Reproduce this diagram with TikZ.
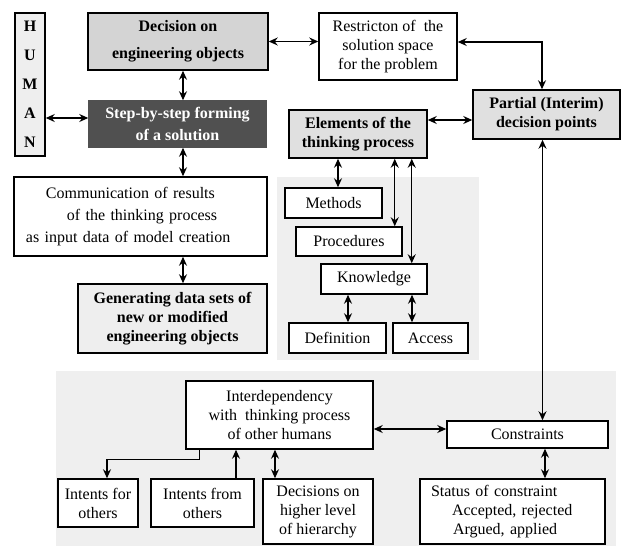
\documentclass[tikz,border=0pt]{standalone}
\usepackage{fontspec}
\setmainfont{Liberation Serif}
\usetikzlibrary{arrows.meta,calc}
\definecolor{decfill}{HTML}{D4D4D4}
\definecolor{partfill}{HTML}{E0E0E0}
\definecolor{lightfill}{HTML}{EEEEEE}
\definecolor{stepfill}{HTML}{505050}
\definecolor{regionfill}{HTML}{EFEFEF}
\tikzset{
  box/.style={draw=black, line width=1.5pt, inner sep=0pt, align=center,
    font=\fontsize{16}{19}\selectfont},
  boldbox/.style={box, font=\fontsize{16}{19}\selectfont\bfseries},
  tip/.tip={Stealth[length=9pt,width=8pt,inset=3pt]},
  dar/.style={line width=1.4pt, tip-tip},
  sar/.style={line width=1.4pt, -tip},
}
\begin{document}
\begin{tikzpicture}[x=1pt,y=-1pt]
\useasboundingbox[fill=white] (0,0) rectangle (622,546);
% background regions
\fill[regionfill] (277,177) rectangle (479,360);
\fill[regionfill] (56,371) rectangle (616,546);

% nodes
\node[boldbox, fill=lightfill, minimum width=30pt, minimum height=143pt,
  font=\fontsize{16}{29}\selectfont\bfseries] (human) at (30,84.5) {H\\U\\M\\A\\N};
\node[boldbox, fill=decfill, minimum width=180pt, minimum height=57pt,
  font=\fontsize{16}{27}\selectfont\bfseries] (dec) at (178,41.5) {Decision on\\engineering objects};
\node[boldbox, fill=stepfill, draw=stepfill, text=white, minimum width=177pt, minimum height=46pt,
  font=\fontsize{16}{22}\selectfont\bfseries] (step) at (177.5,124) {Step-by-step forming\\of a solution};
\node[box, minimum width=253pt, minimum height=79pt, text width=253pt, align=left,
  font=\fontsize{16}{22}\selectfont] (comm) at (140.5,216.5) {\hspace*{32pt}Communication of results\\\hspace*{53pt}of the thinking process\\\hspace*{12pt}as input data of model creation};
\node[boldbox, fill=lightfill, minimum width=189pt, minimum height=69pt] (gen) at (172.5,318.5) {Generating data sets of\\new or modified\\engineering objects};
\node[box, minimum width=138pt, minimum height=67pt] (restr) at (388,46.5) {Restricton of\ \ the\\solution space\\for the problem};
\node[boldbox, fill=partfill, minimum width=147pt, minimum height=49pt] (part) at (546.5,114.5) {Partial (Interim)\\decision points};
\node[boldbox, fill=partfill, minimum width=138pt, minimum height=48pt] (elem) at (358,134) {Elements of the\\thinking process};
\node[box, fill=white, minimum width=97pt, minimum height=30pt] (meth) at (333.5,203) {Methods};
\node[box, fill=white, minimum width=106pt, minimum height=29pt] (proc) at (349,241.5) {Procedures};
\node[box, fill=white, minimum width=106pt, minimum height=30pt] (know) at (374,279) {Knowledge};
\node[box, fill=white, minimum width=97pt, minimum height=30pt] (defn) at (337.5,338) {Definition};
\node[box, fill=white, minimum width=75pt, minimum height=30pt] (acc) at (430.5,338) {Access};
\node[box, fill=white, minimum width=187pt, minimum height=68pt] (inter) at (279.5,415) {Interdependency\\with\ \ thinking process\\of other humans};
\node[box, fill=white, minimum width=161pt, minimum height=27pt] (cons) at (527.5,434.5) {Constraints};
\node[box, fill=white, minimum width=185pt, minimum height=65pt, text width=185pt, align=left] (stat) at (512.5,511.5) {\hspace*{11pt}Status of constraint\\\hspace*{32pt}Accepted, rejected\\\hspace*{33pt}Argued, applied};
\node[box, fill=white, minimum width=80pt, minimum height=48pt] (ifor) at (98,503) {Intents for\\others};
\node[box, fill=white, minimum width=103pt, minimum height=48pt] (ifrom) at (202.5,503) {Intents from\\others};
\node[box, fill=white, minimum width=110pt, minimum height=65pt] (dech) at (318,511.5) {Decisions on\\higher level\\of hierarchy};

% connectors
\draw[dar] (human.east |- 0,118) -- (step.west |- 0,118);
\draw[dar] ([xshift=5pt]dec.south) -- ([xshift=5pt]dec.south |- step.north);
\draw[dar] ([xshift=5.5pt]step.south) -- ([xshift=5.5pt]step.south |- comm.north);
\draw[dar] ([xshift=10.5pt]gen.north) -- ([xshift=10.5pt]gen.north |- comm.south);
\draw[dar] (dec.east) -- (dec.east -| restr.west);
\draw[dar] ([yshift=4.5pt]restr.east) -| ([xshift=-4.5pt]part.north);
\draw[dar] ([yshift=14pt]elem.east) -- ([yshift=14pt]elem.east -| part.west);
\draw[dar] ([xshift=-4pt]part.south) -- ([xshift=-4pt]part.south |- cons.north);
\draw[dar] ([xshift=4.5pt]meth.north) -- ([xshift=4.5pt]meth.north |- elem.south);
\draw[dar] ([xshift=-8pt]proc.north east) -- ([xshift=-8pt]proc.north east |- elem.south);
\draw[dar] ([xshift=-16pt]know.north east) -- ([xshift=-16pt]know.north east |- elem.south);
\draw[dar] ([xshift=10.5pt]defn.north) -- ([xshift=10.5pt]defn.north |- know.south);
\draw[dar] ([xshift=-18.5pt]acc.north) -- ([xshift=-18.5pt]acc.north |- know.south);
\draw[dar] ([yshift=-14pt]inter.east) -- ([yshift=-14pt]inter.east -| cons.west);
\draw[dar] ([xshift=17.5pt]cons.south) -- ([xshift=17.5pt]cons.south |- stat.north);
\draw[sar] ([xshift=14pt]inter.south west) -- ++(0,10) -| ([xshift=9pt]ifor.north);
\draw[sar] ([xshift=33.5pt]ifrom.north) -- ([xshift=33.5pt]ifrom.north |- inter.south);
\draw[dar] ([xshift=-43pt]dech.north) -- ([xshift=-43pt]dech.north |- inter.south);
\end{tikzpicture}
\end{document}
